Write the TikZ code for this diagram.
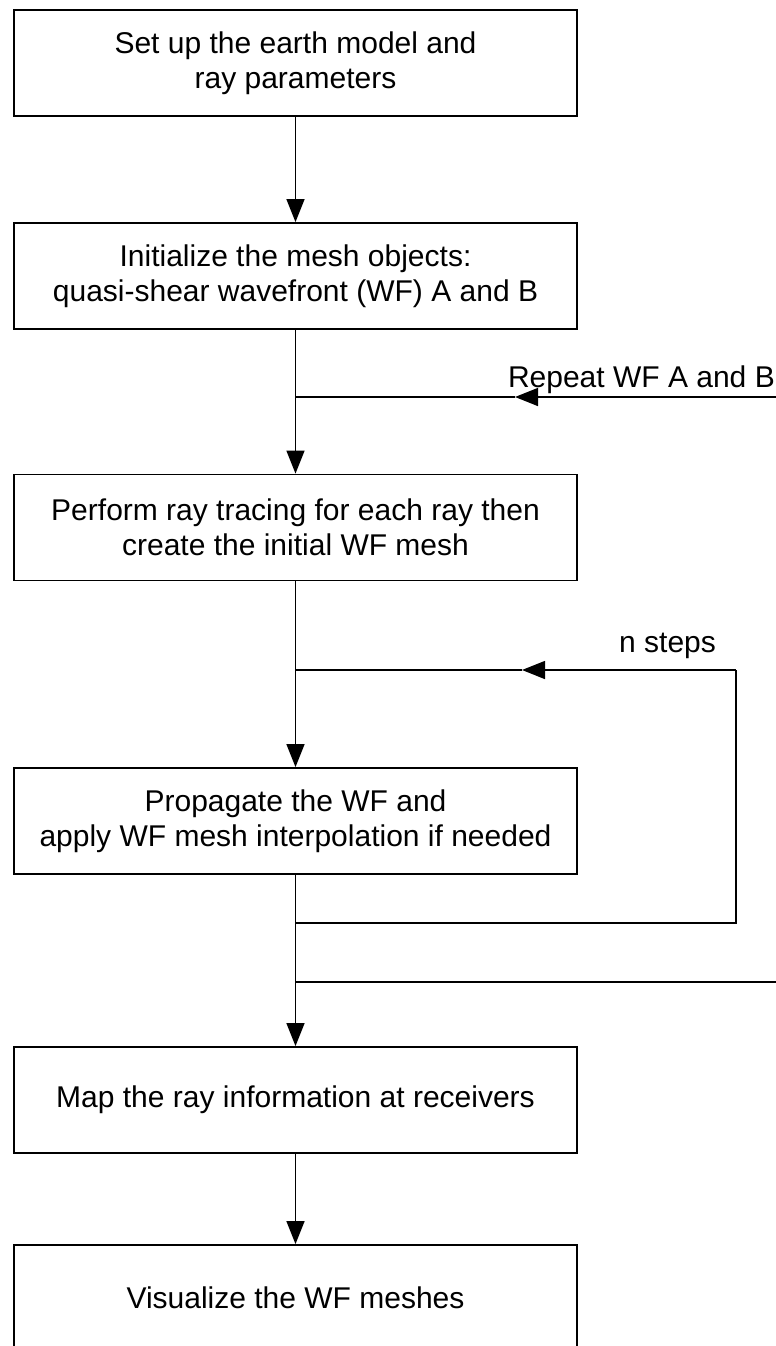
\documentclass[tikz,border=0pt]{standalone}
\usepackage{fontspec}
\setmainfont{Liberation Sans}
\usetikzlibrary{arrows.meta}

\tikzset{
  stepbox/.style={draw, line width=1.8pt, minimum width=563pt, minimum height=106pt,
    inner sep=0pt, align=center, font=\fontsize{30}{35}\selectfont},
  flow/.style={line width=1.5pt},
  arr/.style={flow, -{Triangle[length=23pt,width=18pt]}},
  lbl/.style={font=\fontsize{30}{35}\selectfont, inner sep=0pt},
}

\begin{document}
\begin{tikzpicture}[x=1pt, y=-1pt]
  \clip (0,0) rectangle (776,1346);
  \fill[white] (0,0) rectangle (776,1346);

  % main column of steps
  \node[stepbox] (setup) at (295.5,63) {Set up the earth model and\\ray parameters};
  \node[stepbox] (init) at (295.5,276) {Initialize the mesh objects:\\quasi-shear wavefront (WF) A and B};
  \node[stepbox] (trace) at (295.5,527.5) {Perform ray tracing for each ray then\\create the initial WF mesh};
  \node[stepbox] (prop) at (295.5,821) {Propagate the WF and\\apply WF mesh interpolation if needed};
  \node[stepbox] (map) at (295.5,1100) {Map the ray information at receivers};
  \node[stepbox] (vis) at (295.5,1298) {Visualize the WF meshes};

  % junctions on the trunk and loop corners
  \coordinate (jrep) at (295.5,397);
  \coordinate (jstep) at (295.5,670);
  \coordinate (jback) at (295.5,923);
  \coordinate (jout) at (295.5,982);
  \coordinate (repin) at (780,397);
  \coordinate (repout) at (780,982);
  \coordinate (reptip) at (515,397);
  \coordinate (loopbot) at (736,923);
  \coordinate (looptop) at (736,670);
  \coordinate (steptip) at (522,670);

  % trunk
  \draw[arr] (setup) -- (init);
  \draw[flow] (init) -- (jrep);
  \draw[arr] (jrep) -- (trace);
  \draw[flow] (trace) -- (jstep);
  \draw[arr] (jstep) -- (prop);
  \draw[flow] (prop) -- (jout);
  \draw[arr] (jout) -- (map);
  \draw[arr] (map) -- (vis);

  % n steps loop
  \draw[flow] (jback) -- (loopbot) -- (looptop);
  \draw[arr] (looptop) -- (steptip);
  \draw[flow] (steptip) -- (jstep);
  \node[lbl, anchor=base west] (nlbl) at (619,652) {n steps};

  % repeat for WF A and B
  \draw[flow] (jout) -- (repout);
  \draw[arr] (repin) -- (reptip);
  \draw[flow] (reptip) -- (jrep);
  \node[lbl, anchor=base east] (replbl) at (775,387) {Repeat WF A and B};
\end{tikzpicture}
\end{document}
